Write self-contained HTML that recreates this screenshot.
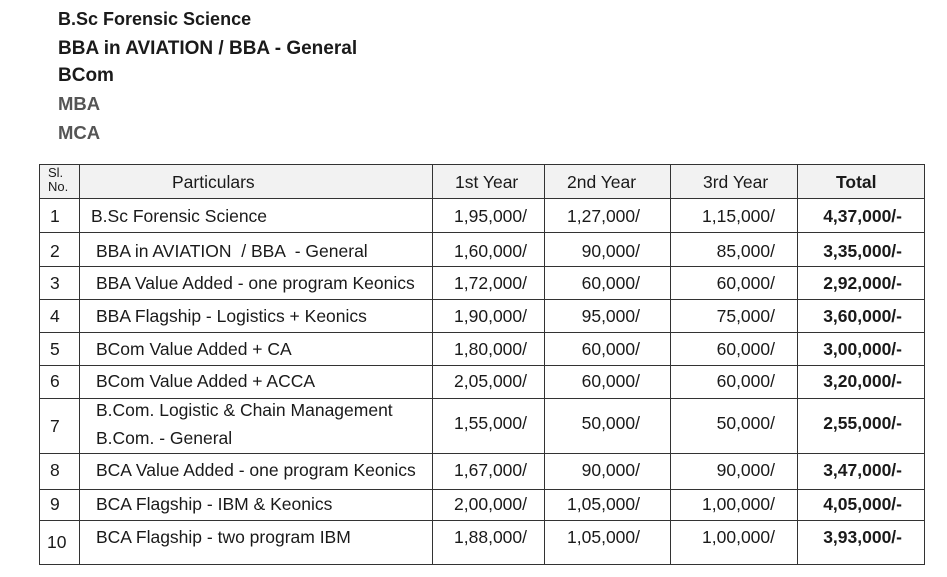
<!DOCTYPE html>
<html><head><style>
body{margin:0;background:#fff;}
#c{position:relative;width:947px;height:577px;overflow:hidden;font-family:"Liberation Sans",sans-serif;color:#1a1a1a;}
.t{position:absolute;white-space:nowrap;line-height:20px;}
.h{font-weight:bold;font-size:18.5px;}
.b{font-size:17.5px;}
.r{text-align:right;}
.v{position:absolute;background:#333;width:1px;}
.hl{position:absolute;background:#333;height:1px;}
</style></head><body><div id="c">
<div class="t h" style="left:58px;top:9px;font-size:18px">B.Sc Forensic Science</div>
<div class="t h" style="left:58px;top:39px;font-size:19px">BBA in AVIATION / BBA - General</div>
<div class="t h" style="left:58px;top:66px;font-size:19px">BCom</div>
<div class="t h" style="left:58px;top:94px;color:#555">MBA</div>
<div class="t h" style="left:58px;top:123px;color:#555">MCA</div>

<div style="position:absolute;left:39px;top:164px;width:886px;height:34px;background:#f2f2f2"></div>
<div class="v" style="left:39px;top:164px;height:401px"></div>
<div class="v" style="left:79px;top:164px;height:401px"></div>
<div class="v" style="left:432px;top:164px;height:401px"></div>
<div class="v" style="left:544px;top:164px;height:401px"></div>
<div class="v" style="left:670px;top:164px;height:401px"></div>
<div class="v" style="left:797px;top:164px;height:401px"></div>
<div class="v" style="left:924px;top:164px;height:401px"></div>
<div class="hl" style="left:39px;top:164px;width:886px"></div>
<div class="hl" style="left:39px;top:198px;width:886px"></div>
<div class="hl" style="left:39px;top:232px;width:886px"></div>
<div class="hl" style="left:39px;top:266px;width:886px"></div>
<div class="hl" style="left:39px;top:299px;width:886px"></div>
<div class="hl" style="left:39px;top:332px;width:886px"></div>
<div class="hl" style="left:39px;top:365px;width:886px"></div>
<div class="hl" style="left:39px;top:398px;width:886px"></div>
<div class="hl" style="left:39px;top:453px;width:886px"></div>
<div class="hl" style="left:39px;top:489px;width:886px"></div>
<div class="hl" style="left:39px;top:520px;width:886px"></div>
<div class="hl" style="left:39px;top:564px;width:886px"></div>

<div class="t" style="left:48px;top:166px;font-size:13px;line-height:14px">Sl.<br>No.</div>
<div class="t b" style="left:172px;top:172px">Particulars</div>
<div class="t b" style="left:455px;top:172px">1st Year</div>
<div class="t b" style="left:567px;top:172px">2nd Year</div>
<div class="t b" style="left:703px;top:172px">3rd Year</div>
<div class="t b" style="left:836px;top:172px;font-weight:bold">Total</div>

<div class="t b" style="left:50px;top:206px">1</div>
<div class="t b" style="left:91px;top:206px">B.Sc Forensic Science</div>
<div class="t b" style="left:50px;top:241px">2</div>
<div class="t b" style="left:96px;top:241px">BBA in AVIATION &nbsp;/ BBA &nbsp;- General</div>
<div class="t b" style="left:50px;top:273px">3</div>
<div class="t b" style="left:96px;top:273px">BBA Value Added - one program Keonics</div>
<div class="t b" style="left:50px;top:306px">4</div>
<div class="t b" style="left:96px;top:306px">BBA Flagship - Logistics + Keonics</div>
<div class="t b" style="left:50px;top:339px">5</div>
<div class="t b" style="left:96px;top:339px">BCom Value Added + CA</div>
<div class="t b" style="left:50px;top:371px">6</div>
<div class="t b" style="left:96px;top:371px">BCom Value Added + ACCA</div>
<div class="t b" style="left:50px;top:416px">7</div>
<div class="t b" style="left:96px;top:400px">B.Com. Logistic &amp; Chain Management</div>
<div class="t b" style="left:96px;top:428px">B.Com. - General</div>
<div class="t b" style="left:50px;top:460px">8</div>
<div class="t b" style="left:96px;top:460px">BCA Value Added - one program Keonics</div>
<div class="t b" style="left:50px;top:494px">9</div>
<div class="t b" style="left:96px;top:494px">BCA Flagship - IBM &amp; Keonics</div>
<div class="t b" style="left:47px;top:532px">10</div>
<div class="t b" style="left:96px;top:527px">BCA Flagship - two program IBM</div>

<div class="t b r" style="right:420px;top:206px">1,95,000/</div>
<div class="t b r" style="right:307px;top:206px">1,27,000/</div>
<div class="t b r" style="right:172px;top:206px">1,15,000/</div>
<div class="t b r" style="right:45px;top:206px;font-weight:bold">4,37,000/-</div>

<div class="t b r" style="right:420px;top:241px">1,60,000/</div>
<div class="t b r" style="right:307px;top:241px">90,000/</div>
<div class="t b r" style="right:172px;top:241px">85,000/</div>
<div class="t b r" style="right:45px;top:241px;font-weight:bold">3,35,000/-</div>

<div class="t b r" style="right:420px;top:273px">1,72,000/</div>
<div class="t b r" style="right:307px;top:273px">60,000/</div>
<div class="t b r" style="right:172px;top:273px">60,000/</div>
<div class="t b r" style="right:45px;top:273px;font-weight:bold">2,92,000/-</div>

<div class="t b r" style="right:420px;top:306px">1,90,000/</div>
<div class="t b r" style="right:307px;top:306px">95,000/</div>
<div class="t b r" style="right:172px;top:306px">75,000/</div>
<div class="t b r" style="right:45px;top:306px;font-weight:bold">3,60,000/-</div>

<div class="t b r" style="right:420px;top:339px">1,80,000/</div>
<div class="t b r" style="right:307px;top:339px">60,000/</div>
<div class="t b r" style="right:172px;top:339px">60,000/</div>
<div class="t b r" style="right:45px;top:339px;font-weight:bold">3,00,000/-</div>

<div class="t b r" style="right:420px;top:371px">2,05,000/</div>
<div class="t b r" style="right:307px;top:371px">60,000/</div>
<div class="t b r" style="right:172px;top:371px">60,000/</div>
<div class="t b r" style="right:45px;top:371px;font-weight:bold">3,20,000/-</div>

<div class="t b r" style="right:420px;top:413px">1,55,000/</div>
<div class="t b r" style="right:307px;top:413px">50,000/</div>
<div class="t b r" style="right:172px;top:413px">50,000/</div>
<div class="t b r" style="right:45px;top:413px;font-weight:bold">2,55,000/-</div>

<div class="t b r" style="right:420px;top:460px">1,67,000/</div>
<div class="t b r" style="right:307px;top:460px">90,000/</div>
<div class="t b r" style="right:172px;top:460px">90,000/</div>
<div class="t b r" style="right:45px;top:460px;font-weight:bold">3,47,000/-</div>

<div class="t b r" style="right:420px;top:494px">2,00,000/</div>
<div class="t b r" style="right:307px;top:494px">1,05,000/</div>
<div class="t b r" style="right:172px;top:494px">1,00,000/</div>
<div class="t b r" style="right:45px;top:494px;font-weight:bold">4,05,000/-</div>

<div class="t b r" style="right:420px;top:527px">1,88,000/</div>
<div class="t b r" style="right:307px;top:527px">1,05,000/</div>
<div class="t b r" style="right:172px;top:527px">1,00,000/</div>
<div class="t b r" style="right:45px;top:527px;font-weight:bold">3,93,000/-</div>
</div></body></html>
